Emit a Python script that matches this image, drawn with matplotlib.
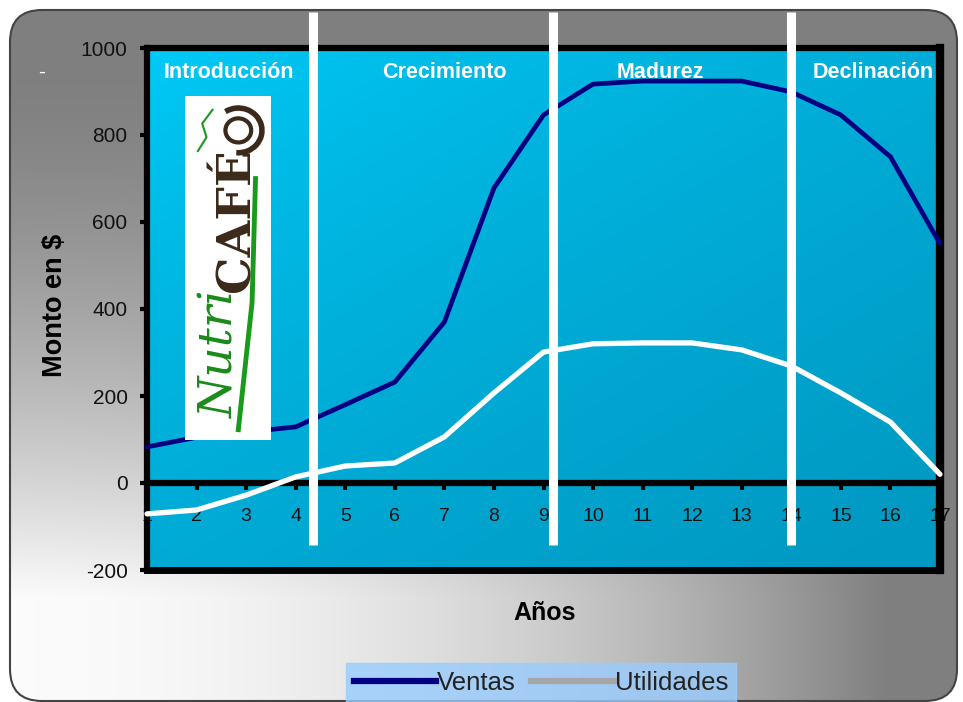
import numpy as np
import matplotlib
matplotlib.use("Agg")
import matplotlib.pyplot as plt
from matplotlib.patches import FancyBboxPatch, Arc
from matplotlib.lines import Line2D

plt.rcParams['font.family'] = ['Liberation Sans', 'DejaVu Sans']

years = list(range(1, 18))
ventas = [83, 105, 117, 129, 180, 232, 370, 678, 846, 917, 924, 924, 924, 899, 846, 750, 550]
utilidades = [-71, -62, -28, 14, 39, 46, 106, 207, 301, 320, 322, 322, 306, 269, 207, 140, 20]
phases = ["Introducción", "Crecimiento", "Madurez", "Declinación"]
phase_label_x = [2.66, 7.0, 11.35, 15.65]
phase_bounds = [4.35, 9.19, 13.99]
y_ticks = [-200, 0, 200, 400, 600, 800, 1000]

W, H = 963, 702
fig = plt.figure(figsize=(W / 100, H / 100), dpi=100)
fig.patch.set_facecolor("white")

# background with gradient, rounded frame (pixel coords, y upward)
bg = fig.add_axes([0, 0, 1, 1], zorder=-10)
bg.set_xlim(0, W)
bg.set_ylim(0, H)
bg.axis("off")
yy, xx = np.mgrid[0:H, 0:W]
fy = yy / H  # 0 at top row of image
fx = xx / W
gxf = np.clip(1 - (fx / 0.92) ** 2, 0, 1)
gyf = np.clip((fy - 0.1) / 0.75, 0, 1) ** 1.5
t = gxf * gyf
dark = np.array([0.50, 0.50, 0.50])
light = np.array([0.985, 0.985, 0.985])
img = dark[None, None, :] * (1 - t[..., None]) + light[None, None, :] * t[..., None]
im = bg.imshow(img, extent=(0, W, 0, H), aspect="auto", zorder=0, origin="upper")
frame = FancyBboxPatch((10, 1), 947, H - 11, boxstyle="round,pad=0,rounding_size=32",
                       facecolor="none", edgecolor="#444444", linewidth=1.5, zorder=2)
bg.add_patch(frame)
im.set_clip_path(frame)

# main axes
left, right, top, bottom = 147, 940, 48, 570
ax = fig.add_axes([left / W, 1 - bottom / H, (right - left) / W, (bottom - top) / H])
ax.set_xlim(1, 17)
ax.set_ylim(-200, 1000)

grad = np.linspace(0, 1, 256)
gx, gy = np.meshgrid(grad, grad)
tt = np.clip(0.5 * gx + 0.55 * gy, 0, 1) ** 0.7
c1 = np.array([0.0, 0.80, 0.98])
c2 = np.array([0.0, 0.60, 0.76])
pimg = c1[None, None, :] * (1 - tt[..., None]) + c2[None, None, :] * tt[..., None]
ax.imshow(pimg, extent=(1, 17, -200, 1000), aspect="auto", zorder=0, origin="upper")

for s in ax.spines.values():
    s.set_linewidth(4.5)
    s.set_color("black")
ax.spines['right'].set_linewidth(6)
ax.spines['bottom'].set_position(('data', 0))
ax.spines['bottom'].set_zorder(3)
ax.axhline(-200, color="black", linewidth=5, zorder=4, clip_on=False)

ax.set_yticks(y_ticks)
ax.set_yticklabels([str(v) for v in y_ticks], fontsize=15, color="#111111")
ax.set_xticks(years)
ax.set_xticklabels([str(v) for v in years], fontsize=14, color="#111111")
ax.tick_params(axis="y", direction="out", length=5, width=3, pad=9)
ax.tick_params(axis="x", direction="out", length=5, width=3, pad=13)

ax.plot(years, ventas, color="#000080", linewidth=3.4, zorder=5, solid_capstyle="round", clip_on=False)
ax.plot(years, utilidades, color="white", linewidth=3.8, zorder=5, solid_capstyle="round", clip_on=False)

for xb in phase_bounds:
    ax.plot([xb, xb], [-143, 1083], color="white", linewidth=6.5, zorder=6, clip_on=False,
            solid_capstyle="butt")

for name, xp in zip(phases, phase_label_x):
    ax.text(xp, 943, name, color="white", fontsize=15.5, fontweight="bold",
            ha="center", va="center", zorder=7)

ax.set_ylabel("Monto en $", fontsize=19.5, fontweight="bold")
ax.yaxis.set_label_coords((55 - left) / (right - left), (bottom - 305) / (bottom - top))
ax.set_xlabel("Años", fontsize=18, fontweight="bold")
ax.xaxis.set_label_coords((545 - left) / (right - left), -(613 - bottom) / (bottom - top))
ax.xaxis.label.set_va("center")
ax.yaxis.label.set_va("center")

# small dash at top-left
fig.text(42 / W, 1 - 72 / H, "-", color="white", fontsize=15, ha="center", va="center")

# logo
logo = fig.add_axes([185 / W, 1 - 440 / H, 86 / W, 344 / H], zorder=8)
logo.set_xlim(0, 1)
logo.set_ylim(0, 1)
logo.set_facecolor("white")
for s in logo.spines.values():
    s.set_visible(False)
logo.set_xticks([])
logo.set_yticks([])
logo.text(0.42, 0.25, "Nutri", rotation=90, color="#1a8a1a", fontsize=34, style="italic",
          family=["DejaVu Serif"], ha="center", va="center")
logo.text(0.6, 0.64, "CAFÉ", rotation=90, color="#3b2a1a", fontsize=34, fontweight="bold",
          family=["DejaVu Serif"], ha="center", va="center")
logo.plot([0.62, 0.78, 0.82], [0.03, 0.4, 0.76], color="#1a9a1a", linewidth=3.5)
logo.add_patch(Arc((0.62, 0.9), 0.55, 0.13, theta1=250, theta2=160, color="#3b2a1a", linewidth=4))
logo.add_patch(Arc((0.62, 0.9), 0.3, 0.07, theta1=0, theta2=360, color="#3b2a1a", linewidth=3))
logo.plot([0.15, 0.25, 0.2, 0.32], [0.84, 0.88, 0.92, 0.96], color="#1a9a1a", linewidth=1.5)

# legend
handles = [Line2D([], [], color="#000080", linewidth=4.5),
           Line2D([], [], color="#a6a6a6", linewidth=4.5)]
leg = fig.legend(handles, ["Ventas", "Utilidades"], loc="center",
                 bbox_to_anchor=(541 / W, 1 - 683 / H), ncol=2, fontsize=18.5,
                 frameon=True, fancybox=False, handlelength=3.2, handletextpad=0.05,
                 columnspacing=0.6, borderpad=0.3, borderaxespad=0)
leg.get_frame().set_facecolor("#99ccff")
leg.get_frame().set_edgecolor("#99ccff")
for txt in leg.get_texts():
    txt.set_color("#222222")

fig.savefig("out.png", dpi=100)
